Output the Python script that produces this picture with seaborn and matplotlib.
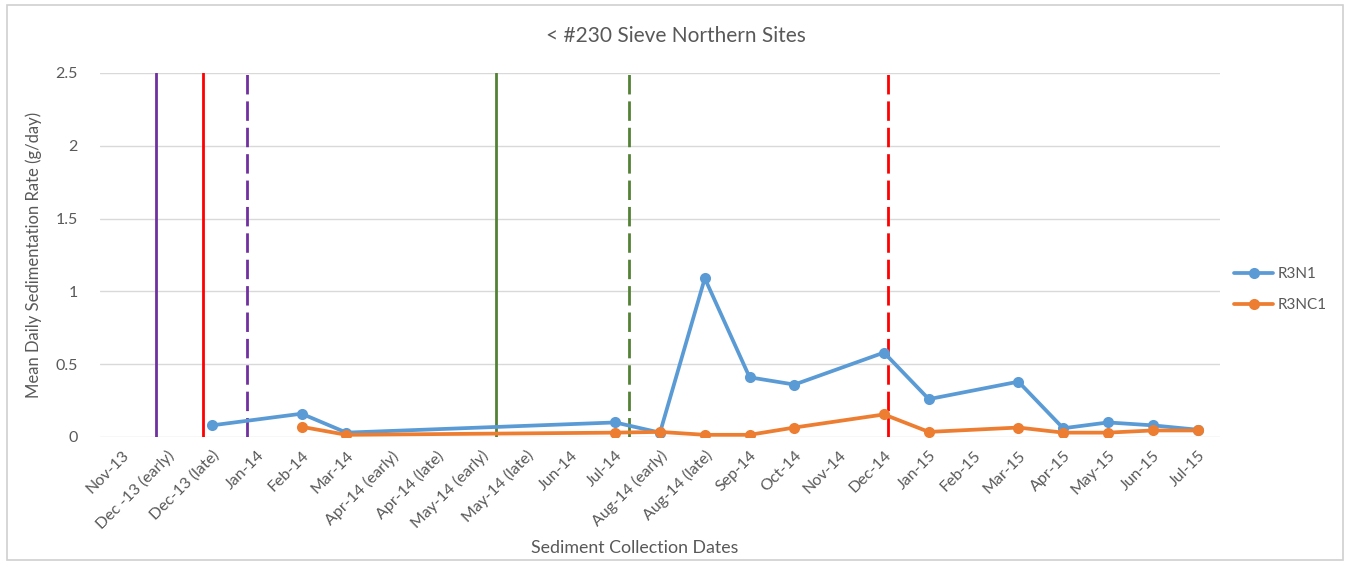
import numpy as np
import pandas as pd
import matplotlib
matplotlib.use("Agg")
import matplotlib.pyplot as plt
from matplotlib.patches import Rectangle
import seaborn as sns

# Collection dates (category axis)
dates = ["Nov-13", "Dec -13 (early)", "Dec-13 (late)", "Jan-14", "Feb-14", "Mar-14",
         "Apr-14 (early)", "Apr-14 (late)", "May-14 (early)", "May-14 (late)", "Jun-14",
         "Jul-14", "Aug-14 (early)", "Aug-14 (late)", "Sep-14", "Oct-14", "Nov-14",
         "Dec-14", "Jan-15", "Feb-15", "Mar-15", "Apr-15", "May-15", "Jun-15", "Jul-15"]

nan = np.nan
# Mean daily sedimentation rate (g/day); NaN = no sample collected
r3n1 = [nan, nan, 0.08, nan, 0.16, 0.03, nan, nan, nan, nan, nan,
        0.10, 0.03, 1.09, 0.41, 0.36, nan, 0.58, 0.26, nan, 0.38,
        0.06, 0.10, 0.08, 0.05]
r3nc1 = [nan, nan, nan, nan, 0.07, 0.015, nan, nan, nan, nan, nan,
         0.03, 0.035, 0.015, 0.015, 0.065, nan, 0.155, 0.035, nan, 0.065,
         0.03, 0.03, 0.045, 0.045]

# Event markers: position on the category axis, colour, line style
event_pos = [0.76, 1.81, 2.79, 8.33, 11.3, 17.08]
event_color = ["#7030A0", "#FF0000", "#7030A0", "#548235", "#548235", "#FF0000"]
event_style = ["solid", "solid", "dashed", "solid", "dashed", "dashed"]

sns.set_theme(style="white")
plt.rcParams["font.family"] = ["Lato", "DejaVu Sans"]
text_color = "#595959"

rows = []
for name, vals in (("R3N1", r3n1), ("R3NC1", r3nc1)):
    for i, v in enumerate(vals):
        if not np.isnan(v):
            rows.append({"idx": i, "rate": v, "site": name})
df = pd.DataFrame(rows)

fig = plt.figure(figsize=(13.51, 5.61), dpi=100)
ax = fig.add_axes([100 / 1351, 1 - 437 / 561, 1120 / 1351, 364 / 561])

# Event lines drawn first so the series sit on top
for pos, col, ls in zip(event_pos, event_color, event_style):
    ax.plot([pos, pos], [0, 2.5], color=col, lw=2.0,
            linestyle=(0, (7, 2.5)) if ls == "dashed" else "-", zorder=2)

sns.lineplot(data=df, x="idx", y="rate", hue="site",
             palette={"R3N1": "#5B9BD5", "R3NC1": "#ED7D31"},
             marker="o", markersize=8, markeredgewidth=0, linewidth=2.7,
             sort=True, ax=ax, zorder=3)

ax.set_xlim(-0.5, len(dates) - 0.5)
ax.set_ylim(0, 2.5)
ax.set_yticks([0, 0.5, 1, 1.5, 2, 2.5])
ax.set_yticklabels(["0", "0.5", "1", "1.5", "2", "2.5"])
ax.set_xticks(range(len(dates)))
ax.set_xticklabels(dates, rotation=45, ha="right", rotation_mode="anchor")
ax.tick_params(axis="both", colors=text_color, labelsize=11.5, length=0)
ax.tick_params(axis="x", pad=8)
ax.tick_params(axis="y", pad=16)
ax.yaxis.grid(True, color="#D9D9D9", linewidth=1)
ax.set_axisbelow(True)
for s in ax.spines.values():
    s.set_visible(False)

ax.set_xlabel("Sediment Collection Dates", color=text_color, fontsize=12.8, labelpad=6)
ax.xaxis.set_label_coords(0.477, -0.283)
ax.set_ylabel("Mean Daily Sedimentation Rate (g/day)", color=text_color, fontsize=12, labelpad=10)
ax.set_title("< #230 Sieve Northern Sites", color=text_color, fontsize=15, pad=22, x=0.514)

handles, labels = ax.get_legend_handles_labels()
leg = ax.legend(handles, labels, loc="center left", bbox_to_anchor=(1.0, 0.405),
                frameon=False, fontsize=11, handlelength=2.6, labelspacing=1.1,
                handletextpad=0.3)
for t in leg.get_texts():
    t.set_color(text_color)

fig.patches.append(Rectangle((7 / 1351, 1 / 561), 1336 / 1351, 555 / 561,
                             transform=fig.transFigure, fill=False,
                             edgecolor="#D0D0D0", linewidth=1.2))

fig.savefig("out.png", dpi=100, facecolor="white")
